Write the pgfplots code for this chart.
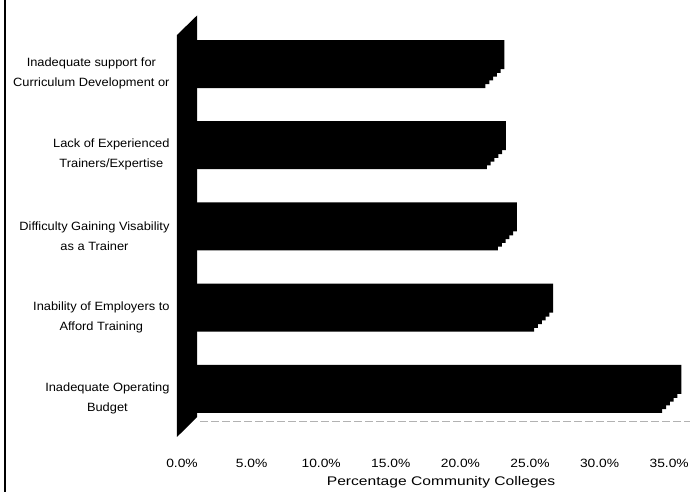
\documentclass[border=0pt]{standalone}
\usepackage{fontspec}
\setmainfont{Liberation Sans}
\newfontfamily\labfont[FakeStretch=1.07]{Liberation Sans}
\newfontfamily\tickfont[FakeStretch=1.15]{Liberation Sans}
\newfontfamily\xlabfont[FakeStretch=1.25]{Liberation Sans}
\usepackage{pgfplots}
\usepackage{pgfplotstable}
\pgfplotsset{compat=1.18}

\pgfplotstableread{
y v
0 34.5
1 25.3
2 22.7
3 21.9
4 21.8
}\bars

\begin{document}
\begin{tikzpicture}
\useasboundingbox (-166.7pt,-51.9pt) rectangle (524.3pt,439.1pt);
\begin{axis}[
  scale only axis, width=520.6pt, height=430.6pt,
  xmin=-1.1, xmax=36.3, ymin=-0.5, ymax=4.8,
  axis line style={draw=none}, major tick length=0pt,
  xbar, bar width=29pt,
  clip=false,
  xtick={0,5,...,35},
  xticklabels={0.0\%,5.0\%,10.0\%,15.0\%,20.0\%,25.0\%,30.0\%,35.0\%},
  xticklabel style={font=\fontsize{12}{14}\tickfont, anchor=center, yshift=-24pt},
  ytick={0,1,2,3,4},
  yticklabels={{Inadequate Operating\\Budget},{Inability of Employers to\\Afford Training},{Difficulty Gaining Visability\\as a Trainer},{Lack of Experienced\\Trainers/Expertise},{Inadequate support for\\Curriculum Development or}},
  yticklabel style={font=\fontsize{12}{20}\labfont, align=center, anchor=east, inner sep=0pt, xshift=3pt},
  xlabel={Percentage Community Colleges},
  xlabel style={font=\fontsize{12.5}{15}\xlabfont, at={(axis description cs:0.527,-0.0996)}, anchor=center},
]
\fill[black] (axis cs:-0.36,4.474) -- (axis cs:1.08,4.714) -- (axis cs:1.08,-0.228) -- (axis cs:-0.36,-0.474) -- cycle;
\addplot[fill=black, draw=none, bar shift=19pt] table[x expr=\thisrow{v}+1.365, y=y]{\bars};
\addplot[fill=black, draw=none, bar shift=15.2pt] table[x expr=\thisrow{v}+1.092, y=y]{\bars};
\addplot[fill=black, draw=none, bar shift=11.4pt] table[x expr=\thisrow{v}+0.819, y=y]{\bars};
\addplot[fill=black, draw=none, bar shift=7.6pt] table[x expr=\thisrow{v}+0.546, y=y]{\bars};
\addplot[fill=black, draw=none, bar shift=3.8pt] table[x expr=\thisrow{v}+0.273, y=y]{\bars};
\addplot[fill=black, draw=none, bar shift=0pt] table[x=v, y=y]{\bars};
\draw[gray!60, line width=0.8pt, dash pattern=on 8pt off 3pt] (axis cs:1.3,-0.277) -- (axis cs:36.5,-0.277);
\draw[black, line width=1.5pt] (axis cs:-12.72,5.0) -- (axis cs:-12.72,-1.2);
\end{axis}
\end{tikzpicture}
\end{document}
